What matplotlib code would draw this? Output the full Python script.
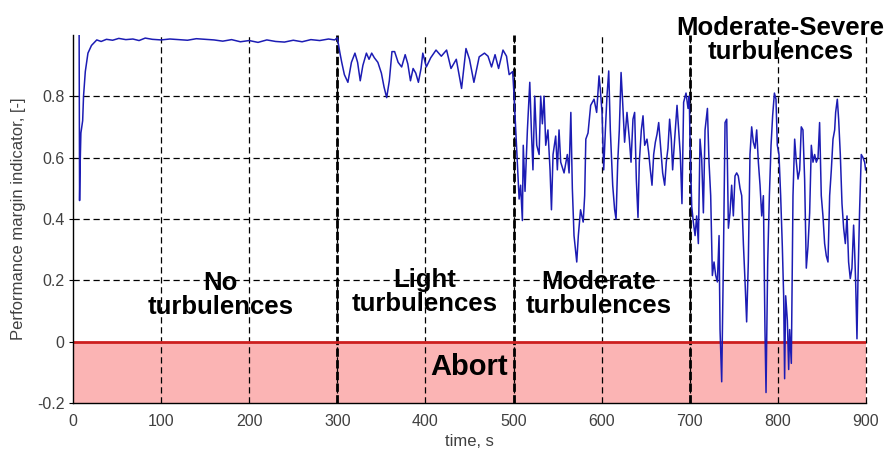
import matplotlib
matplotlib.use("Agg")
import matplotlib.pyplot as plt

# ---- data ----
seg1_t = [7, 7.5, 8, 9, 10, 11, 12, 14, 17, 21, 27, 32, 38, 45, 52, 60, 68, 75, 82, 90,
          100, 110, 120, 130, 140, 150, 160, 170, 180, 190, 200, 210, 220, 230, 240, 250,
          260, 270, 280, 290, 297, 300]
seg1_v = [1.0, 0.46, 0.56, 0.68, 0.70, 0.72, 0.80, 0.88, 0.94, 0.965, 0.983, 0.978, 0.985,
          0.982, 0.988, 0.984, 0.986, 0.981, 0.989, 0.985, 0.983, 0.986, 0.984, 0.982, 0.987,
          0.985, 0.983, 0.979, 0.984, 0.977, 0.981, 0.975, 0.983, 0.978, 0.976, 0.982, 0.977,
          0.984, 0.981, 0.986, 0.983, 0.99]

seg2_t = [303, 305, 308, 312, 316, 320, 323, 326, 329, 333, 336, 339, 342, 346, 350, 353,
          356, 359, 362, 365, 369, 373, 377, 380, 383, 386, 389, 392, 395, 397, 401, 406,
          412, 418, 424, 429, 435, 441, 446, 450, 455, 461, 467, 471, 475, 479, 483, 488,
          492, 495, 499]
seg2_v = [0.94, 0.91, 0.87, 0.845, 0.91, 0.94, 0.91, 0.85, 0.90, 0.94, 0.92, 0.94, 0.925,
          0.91, 0.875, 0.83, 0.795, 0.85, 0.945, 0.945, 0.91, 0.895, 0.935, 0.905, 0.85,
          0.89, 0.875, 0.845, 0.89, 0.94, 0.895, 0.925, 0.95, 0.93, 0.95, 0.89, 0.92, 0.825,
          0.955, 0.92, 0.845, 0.928, 0.94, 0.93, 0.895, 0.935, 0.89, 0.95, 0.93, 0.87, 0.88]

seg3_t = [500.6, 502.5, 504.4, 506.3, 508, 510, 511, 513, 515.7, 518.4, 520.2, 522, 524,
          526.3, 529, 530.8, 532.7, 534.6, 536.5, 539, 541.4, 543, 544.8, 547.8, 549.7,
          551.6, 553.5, 557.3, 561, 563, 565, 566.7, 568.6, 571.7, 573.5, 576, 579, 580.7,
          582, 584.5, 587.5, 591.3, 594.3, 597, 598.5, 600.4, 602.3, 604.2, 606, 608,
          609.8, 612.5, 614.7, 616.3, 618.2, 620, 622, 623.8, 626, 628.7, 631.4, 633.3,
          635.5, 637.4, 639.3, 641.2, 642.7, 645, 646.9, 648.8, 651.4, 653.3, 655.2, 657.1,
          659, 660.9, 662.8, 664.7, 666.5, 669.2, 671.5, 673.3, 675.2, 677.1, 679, 680.5,
          682.8, 685.5, 687.3, 689.2, 691.1, 693, 695.7, 698, 699.4]
seg3_v = [0.80, 0.69, 0.585, 0.465, 0.51, 0.395, 0.64, 0.49, 0.69, 0.845, 0.69, 0.56, 0.80,
          0.64, 0.61, 0.80, 0.71, 0.80, 0.64, 0.69, 0.56, 0.43, 0.61, 0.67, 0.56, 0.69,
          0.585, 0.55, 0.61, 0.55, 0.747, 0.50, 0.346, 0.26, 0.346, 0.43, 0.39, 0.476, 0.66,
          0.68, 0.77, 0.79, 0.747, 0.866, 0.82, 0.747, 0.56, 0.69, 0.80, 0.882, 0.69, 0.51,
          0.43, 0.40, 0.585, 0.69, 0.877, 0.78, 0.65, 0.747, 0.66, 0.585, 0.725, 0.747,
          0.53, 0.405, 0.585, 0.69, 0.736, 0.64, 0.66, 0.617, 0.56, 0.51, 0.61, 0.65, 0.676,
          0.714, 0.65, 0.55, 0.51, 0.585, 0.63, 0.725, 0.66, 0.56, 0.66, 0.77, 0.69, 0.61,
          0.45, 0.78, 0.81, 0.76, 0.80]

seg4_t = [700.3, 702.2, 704, 706, 707.8, 709.7, 711.6, 713.5, 715.4, 717.3, 720, 721.8,
          723.7, 725.6, 727.5, 729.4, 731.3, 733.2, 734.3, 736.2, 738.1, 740, 741.9, 743.8,
          745.6, 747.5, 749.4, 751.3, 753.2, 755, 757, 758.9, 760.8, 762.7, 764.5, 766.4,
          768.3, 770.2, 772.1, 774, 775.9, 777.8, 779.7, 781.6, 783.5, 785.3, 786.5, 788.4,
          790.3, 792.2, 794, 796, 797.8, 799.3, 801.2, 803.1, 805, 806.5, 807.6, 808.8,
          810.7, 812.2, 813.3, 815.2, 817.1, 819, 820.9, 822.8, 824.7, 826.5, 828.4, 830.3,
          832.2, 834.1, 836, 837.9, 839.8, 841.7, 843.6, 845.5, 847.3, 849.2, 851.1, 853,
          854.9, 856.8, 858.7, 860.6, 862.5, 864.4, 865.5, 867.4, 868.9, 870.8, 872.7,
          874.6, 876.5, 878.4, 880.2, 882.1, 884, 885.9, 887, 888.2, 889.7, 890.8, 892.7,
          894.6, 896.5, 898.4, 899.5]
seg4_v = [0.64, 0.44, 0.39, 0.346, 0.41, 0.32, 0.66, 0.595, 0.42, 0.69, 0.76, 0.585, 0.476,
          0.216, 0.26, 0.216, 0.195, 0.346, 0.04, -0.13, 0.26, 0.714, 0.725, 0.37, 0.42,
          0.51, 0.41, 0.54, 0.55, 0.54, 0.50, 0.476, 0.32, 0.195, 0.065, 0.26, 0.61, 0.70,
          0.65, 0.63, 0.69, 0.585, 0.51, 0.41, 0.476, 0.04, -0.165, 0.26, 0.476, 0.64,
          0.736, 0.81, 0.79, 0.64, 0.61, 0.476, 0.31, 0.15, -0.12, 0.15, 0.07, -0.09, 0.04,
          -0.07, 0.476, 0.66, 0.585, 0.53, 0.56, 0.70, 0.69, 0.53, 0.24, 0.31, 0.42, 0.64,
          0.585, 0.61, 0.585, 0.60, 0.714, 0.476, 0.41, 0.32, 0.28, 0.26, 0.476, 0.56, 0.66,
          0.69, 0.747, 0.79, 0.725, 0.61, 0.45, 0.37, 0.32, 0.41, 0.26, 0.206, 0.24, 0.38,
          0.30, 0.195, 0.01, 0.195, 0.43, 0.61, 0.60, 0.585, 0.56]

time = seg1_t + seg2_t + seg3_t + seg4_t
margin = seg1_v + seg2_v + seg3_v + seg4_v

x_ticks = [0, 100, 200, 300, 400, 500, 600, 700, 800, 900]
y_ticks = [-0.2, 0, 0.2, 0.4, 0.6, 0.8]
y_tick_labels = ["-0.2", "0", "0.2", "0.4", "0.6", "0.8"]
region_bounds = [300, 500, 700]
region_labels = ["No\nturbulences", "Light\nturbulences", "Moderate\nturbulences",
                 "Moderate-Severe\nturbulences"]
region_label_x = [167, 399, 596, 803]
region_label_y = [0.152, 0.161, 0.155, 0.983]

plt.rcParams['font.family'] = ['Liberation Sans', 'DejaVu Sans']

fig = plt.figure(figsize=(8.92, 4.49), dpi=100)
ax = fig.add_axes([0.0818, 0.1018, 0.8891, 0.8209])

ax.set_xlim(0, 900)
ax.set_ylim(-0.2, 1.0)

# abort zone
ax.axhspan(-0.2, 0, color='#fbb4b4', zorder=0.5, lw=0)

# grid
for x in x_ticks[1:]:
    ax.axvline(x, color='black', lw=0.9, ls=(0, (5, 3)), zorder=1, clip_on=False)
for y in y_ticks[2:]:
    ax.axhline(y, color='black', lw=0.9, ls=(0, (5, 3)), zorder=1)

for x in region_bounds:
    ax.axvline(x, color='black', lw=2.0, ls=(0, (3, 1.2)), zorder=2)

ax.axhline(0, color='#cc1f1f', lw=2.0, zorder=2.5)

ax.plot(time, margin, color='#1c1cb4', lw=1.1, zorder=3)

for lab, lx, ly in zip(region_labels, region_label_x, region_label_y):
    ax.text(lx, ly, lab, ha='center', va='center', fontsize=18.5, fontweight='bold',
            linespacing=1.0, zorder=4, clip_on=False)
ax.text(450, -0.082, "Abort", ha='center', va='center', fontsize=21, fontweight='bold',
        zorder=4)

ax.set_xticks(x_ticks)
ax.set_yticks(y_ticks)
ax.set_yticklabels(y_tick_labels)
ax.tick_params(axis='x', length=0, pad=8, labelsize=11.5, labelcolor='#404040')
ax.tick_params(axis='y', direction='out', length=3, pad=3, labelsize=11.5,
               labelcolor='#404040')

for s in ['top', 'right']:
    ax.spines[s].set_visible(False)
for s in ['left', 'bottom']:
    ax.spines[s].set_linewidth(1.0)
    ax.spines[s].set_zorder(5)

ax.set_xlabel("time, s", fontsize=12, color='#404040', labelpad=3)
ax.set_ylabel("Performance margin indicator, [-]", fontsize=12, color='#404040', labelpad=8)

fig.savefig("out.png", dpi=100)
